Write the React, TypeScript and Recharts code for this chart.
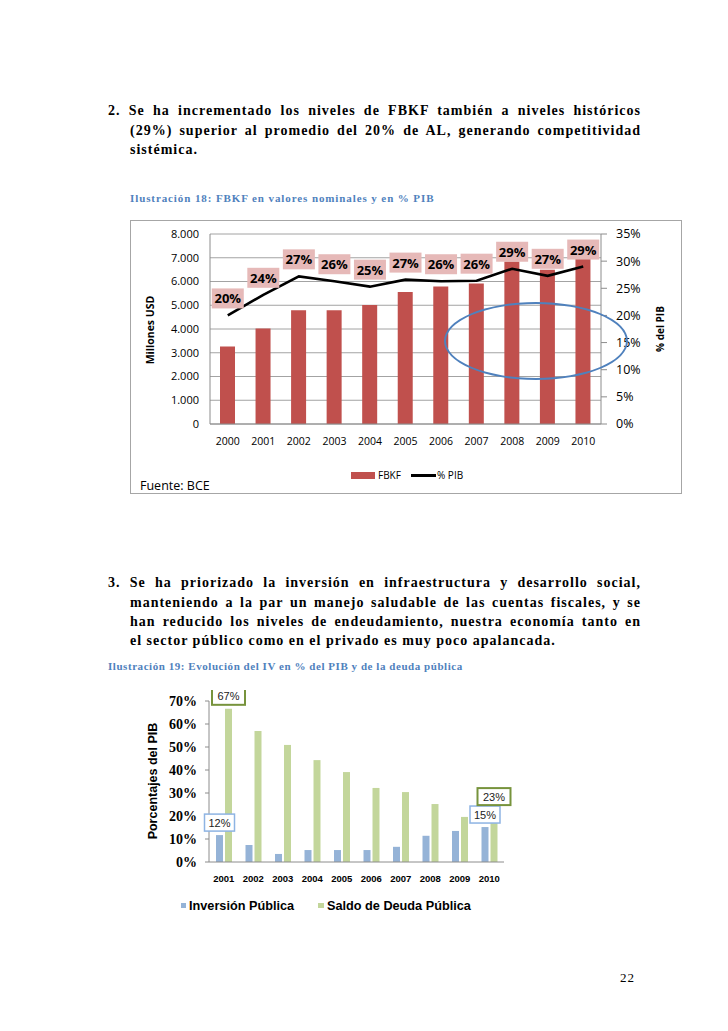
import React from 'react';
import { ComposedChart, BarChart, Bar, Line, XAxis, YAxis, CartesianGrid, LabelList } from 'recharts';

// Ilustración 18
const years1 = ['2000', '2001', '2002', '2003', '2004', '2005', '2006', '2007', '2008', '2009', '2010'];
const fbkfMillones = [3260, 4020, 4790, 4790, 5010, 5560, 5790, 5920, 6840, 6500, 7000];
const fbkfPctPib = [20.0, 23.8, 27.2, 26.3, 25.3, 26.6, 26.3, 26.4, 28.6, 27.3, 29.0];
const leftTicks1 = [0, 1000, 2000, 3000, 4000, 5000, 6000, 7000, 8000];
const rightTicks1 = [0, 5, 10, 15, 20, 25, 30, 35];

// Ilustración 19
const years2 = ['2001', '2002', '2003', '2004', '2005', '2006', '2007', '2008', '2009', '2010'];
const inversionPublica = [11.7, 7.4, 3.5, 5.2, 5.2, 5.2, 6.6, 11.4, 13.5, 15.2];
const deudaPublica = [66.6, 57.0, 50.9, 44.3, 39.1, 32.2, 30.4, 25.2, 19.6, 23.0];
const ticks2 = [0, 10, 20, 30, 40, 50, 60, 70];

const data1 = years1.map((y, i) => ({ year: y, fbkf: fbkfMillones[i], pib: fbkfPctPib[i] }));
const data2 = years2.map((y, i) => ({ year: y, inv: inversionPublica[i], deuda: deudaPublica[i] }));

const sans = '"Open Sans", "Noto Sans", sans-serif';
const arial = '"Liberation Sans", Arial, sans-serif';
const serif = '"Liberation Serif", "Times New Roman", serif';

const thousands = (v: number) => String(v).replace(/\B(?=(\d{3})+(?!\d))/g, '.');

const PibLabel = (props: any) => {
  const { x, y, value } = props;
  if (x == null || y == null) return null;
  return (
    <g>
      <rect x={x - 16} y={y - 27} width={32} height={20} fill="#e6b9b8" />
      <text x={x} y={y - 17} textAnchor="middle" dominantBaseline="central"
        fontFamily={sans} fontWeight={700} fontSize={13} fill="#000">
        {Math.round(value)}%
      </text>
    </g>
  );
};

const makeEndLabel = (border: string, bw: number, w: number) => (props: any) => {
  const { x, y, width, value, index } = props;
  if (index !== 0 && index !== years2.length - 1) return null;
  const cx = x + width / 2;
  return (
    <g>
      <rect x={cx - w / 2} y={y - 21} width={w} height={17} fill="#fff" stroke={border} strokeWidth={bw} />
      <text x={cx} y={y - 12.5} textAnchor="middle" dominantBaseline="central"
        fontFamily={arial} fontSize={11} fill="#222">
        {Math.round(value)}%
      </text>
    </g>
  );
};

const Line_ = (props: { top: number; text: string; justify?: boolean; left: number }) => (
  <div style={{
    position: 'absolute', left: props.left, top: props.top, width: 641 - props.left,
    fontFamily: serif, fontWeight: 700, fontSize: 14, lineHeight: '20px', letterSpacing: 1,
    textAlign: props.justify ? 'justify' : 'left',
    textAlignLast: props.justify ? 'justify' : 'left',
    whiteSpace: 'nowrap', color: '#000',
  } as React.CSSProperties}>{props.text}</div>
);

const caption: React.CSSProperties = {
  position: 'absolute', fontFamily: serif, fontWeight: 700, fontSize: 11,
  letterSpacing: 0.9, color: '#4f81bd', whiteSpace: 'nowrap', lineHeight: '14px',
};

export default function App() {
  return (
    <div style={{ position: 'absolute', left: 0, top: 0, width: 728, height: 1031, background: '#fff', overflow: 'hidden' }}>
      <Line_ left={108} top={101} justify text="2. Se ha incrementado los niveles de FBKF  también a niveles históricos" />
      <Line_ left={130} top={121} justify text="(29%) superior al promedio del 20% de AL, generando competitividad" />
      <Line_ left={130} top={140} text="sistémica." />

      <div style={{ ...caption, left: 130, top: 191 }}>Ilustración 18: FBKF en valores nominales y en % PIB</div>

      {/* Ilustración 18 */}
      <div style={{ position: 'absolute', left: 130, top: 220, width: 552, height: 274, border: '1px solid #a6a6a6', boxSizing: 'border-box' }} />
      <div style={{ position: 'absolute', left: 130, top: 220 }}>
        <ComposedChart width={552} height={274} data={data1} margin={{ top: 14, right: 20, bottom: 40, left: 20 }}>
          <CartesianGrid yAxisId="l" vertical={false} stroke="#8c8c8c" strokeWidth={0.8} />
          <XAxis dataKey="year" height={30} tickLine={false} axisLine={{ stroke: '#8c8c8c' }}
            tickSize={0} tickMargin={14} tick={{ fontFamily: sans, fontSize: 10.5, fill: '#000' }} interval={0} />
          <YAxis yAxisId="l" orientation="left" width={60} domain={[0, 8000]} ticks={leftTicks1}
            tickFormatter={thousands} tickLine={false} tickSize={0} tickMargin={11}
            axisLine={{ stroke: '#8c8c8c' }} tick={{ fontFamily: sans, fontSize: 11, fill: '#000' }} />
          <YAxis yAxisId="r" orientation="right" width={61} domain={[0, 35]} ticks={rightTicks1}
            tickFormatter={(v: number) => `${v}%`} tickSize={6} tickMargin={9}
            tickLine={{ stroke: '#8c8c8c' }} axisLine={{ stroke: '#8c8c8c' }}
            tick={{ fontFamily: sans, fontSize: 12.5, fill: '#000' }} />
          <Bar yAxisId="l" dataKey="fbkf" fill="#c0504d" barSize={15} isAnimationActive={false} />
          <Line yAxisId="r" dataKey="pib" type="linear" stroke="#000" strokeWidth={2.6} dot={false} isAnimationActive={false}>
            <LabelList dataKey="pib" content={PibLabel} />
          </Line>
        </ComposedChart>
      </div>
      <div style={{ position: 'absolute', left: 150, top: 330, transform: 'translate(-50%, -50%) rotate(-90deg)', fontFamily: sans, fontWeight: 700, fontSize: 10.5, whiteSpace: 'nowrap' }}>Millones USD</div>
      <div style={{ position: 'absolute', left: 660, top: 329, transform: 'translate(-50%, -50%) rotate(-90deg)', fontFamily: sans, fontWeight: 700, fontSize: 10, whiteSpace: 'nowrap' }}>% del PIB</div>
      {/* annotation ellipse */}
      <div style={{ position: 'absolute', left: 444, top: 302, width: 184, height: 78, border: '2.2px solid #4f81bd', borderRadius: '50%', boxSizing: 'border-box' }} />
      {/* legend 18 */}
      <div style={{ position: 'absolute', left: 351, top: 472, width: 24, height: 7, background: '#c0504d' }} />
      <div style={{ position: 'absolute', left: 378, top: 468, fontFamily: sans, fontSize: 10, lineHeight: '14px' }}>FBKF</div>
      <div style={{ position: 'absolute', left: 411, top: 474, width: 25, height: 3, background: '#000' }} />
      <div style={{ position: 'absolute', left: 437, top: 468, fontFamily: sans, fontSize: 10, lineHeight: '14px' }}>% PIB</div>
      <div style={{ position: 'absolute', left: 140, top: 477, fontFamily: sans, fontSize: 12.5, lineHeight: '18px' }}>Fuente: BCE</div>

      <Line_ left={108} top={573} justify text="3. Se ha priorizado la inversión en infraestructura y desarrollo social," />
      <Line_ left={130} top={593} justify text="manteniendo a la par un manejo saludable de las cuentas fiscales, y se" />
      <Line_ left={130} top={612} justify text="han reducido los niveles de endeudamiento, nuestra economía tanto en" />
      <Line_ left={130} top={631} text="el sector público como en el privado es muy poco apalancada." />

      <div style={{ ...caption, left: 108, top: 659, letterSpacing: 0.55 }}>Ilustración 19: Evolución del IV en % del PIB y de la deuda pública</div>

      {/* Ilustración 19 */}
      <div style={{ position: 'absolute', left: 120, top: 690 }}>
        <BarChart width={400} height={200} data={data2} margin={{ top: 11, right: 16, bottom: 8, left: 29 }} barGap={2}>
          <XAxis dataKey="year" height={20} tickLine={false} tickSize={0} tickMargin={13}
            axisLine={{ stroke: '#8c8c8c' }} interval={0}
            tick={{ fontFamily: arial, fontWeight: 700, fontSize: 9.5, fill: '#000' }} />
          <YAxis width={60} domain={[0, 70]} ticks={ticks2} tickFormatter={(v: number) => `${v}%`}
            tickSize={4} tickMargin={8} tickLine={{ stroke: '#8c8c8c' }} axisLine={{ stroke: '#8c8c8c' }}
            tick={{ fontFamily: serif, fontWeight: 700, fontSize: 14, fill: '#000' }} />
          <Bar dataKey="inv" fill="#95b3d7" barSize={7} isAnimationActive={false}>
            <LabelList dataKey="inv" content={makeEndLabel('#8eb4e3', 1.5, 30)} />
          </Bar>
          <Bar dataKey="deuda" fill="#c3d69b" barSize={7} isAnimationActive={false}>
            <LabelList dataKey="deuda" content={makeEndLabel('#77933c', 2, 33)} />
          </Bar>
        </BarChart>
      </div>
      <div style={{ position: 'absolute', left: 153, top: 781, transform: 'translate(-50%, -50%) rotate(-90deg)', fontFamily: arial, fontWeight: 700, fontSize: 12.5, whiteSpace: 'nowrap' }}>Porcentajes del PIB</div>
      {/* legend 19 */}
      <div style={{ position: 'absolute', left: 181, top: 903, width: 5, height: 5, background: '#95b3d7' }} />
      <div style={{ position: 'absolute', left: 189, top: 898, fontFamily: arial, fontWeight: 700, fontSize: 12.7, lineHeight: '16px' }}>Inversión Pública</div>
      <div style={{ position: 'absolute', left: 318, top: 903, width: 6, height: 5, background: '#c3d69b' }} />
      <div style={{ position: 'absolute', left: 327, top: 898, fontFamily: arial, fontWeight: 700, fontSize: 12.7, lineHeight: '16px' }}>Saldo de Deuda Pública</div>

      <div style={{ position: 'absolute', left: 620, top: 970, fontFamily: serif, fontSize: 13, letterSpacing: 1, lineHeight: '16px' }}>22</div>
    </div>
  );
}
